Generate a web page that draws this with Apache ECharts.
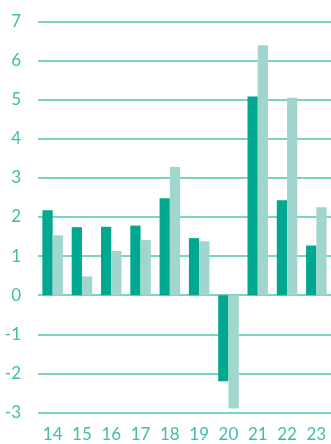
<!DOCTYPE html>
<html>
<head>
<meta charset="utf-8">
<script src="https://cdn.jsdelivr.net/npm/echarts@6/dist/echarts.min.js"></script>
<style>
  html, body { margin: 0; padding: 0; background: #fff; }
  #chart { width: 331px; height: 444px; }
</style>
</head>
<body>
<div id="chart"></div>
<script>
// years (x axis)
const years = ["14", "15", "16", "17", "18", "19", "20", "21", "22", "23"];
// dark teal series
const seriesA = [2.17, 1.74, 1.75, 1.78, 2.48, 1.46, -2.2, 5.08, 2.43, 1.27];
// light teal series
const seriesB = [1.53, 0.48, 1.13, 1.41, 3.28, 1.38, -2.9, 6.39, 5.05, 2.25];

const chart = echarts.init(document.getElementById("chart"));

const labelColor = "#3dbfa9";
const gridColor = "#4fc4b1";

chart.setOption({
  animation: false,
  grid: {
    left: 38,
    top: 21.5,
    bottom: 31.5,
    right: -6,
    containLabel: false,
  },
  xAxis: {
    type: "category",
    data: years,
    axisLine: { show: false, onZero: false },
    axisTick: { show: false },
    axisLabel: {
      color: labelColor,
      fontFamily: "Lato",
      fontSize: 17,
      margin: 14,
    },
  },
  yAxis: {
    type: "value",
    min: -3,
    max: 7,
    interval: 1,
    axisLine: { show: false },
    axisTick: { show: false },
    axisLabel: {
      color: labelColor,
      fontFamily: "Lato",
      fontSize: 17,
      margin: 17,
    },
    splitLine: {
      show: true,
      lineStyle: { color: gridColor, width: 1.5 },
    },
  },
  series: [
    {
      type: "bar",
      data: seriesA,
      barGap: "0%",
      barCategoryGap: "30%",
      itemStyle: { color: "#00a88f" },
    },
    {
      type: "bar",
      data: seriesB,
      itemStyle: { color: "#a1d6ce" },
    },
  ],
});
</script>
</body>
</html>
